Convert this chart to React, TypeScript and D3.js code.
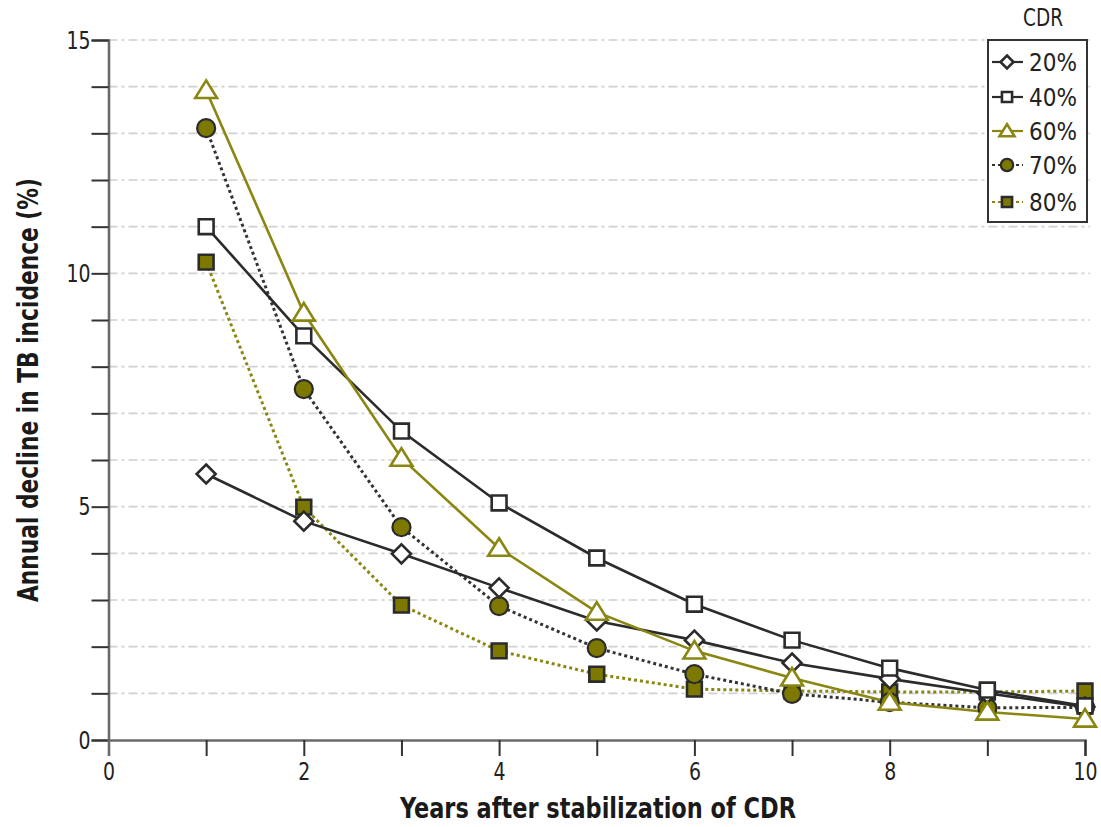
import React, { useRef, useEffect } from 'react'
import * as d3 from 'd3'

const years = [1, 2, 3, 4, 5, 6, 7, 8, 9, 10]
const seriesNames = ['20%', '40%', '60%', '70%', '80%']
const cdr20 = [5.7, 4.69, 3.99, 3.26, 2.55, 2.14, 1.65, 1.31, 1.0, 0.71]
const cdr40 = [11.0, 8.66, 6.62, 5.08, 3.9, 2.91, 2.14, 1.54, 1.07, 0.73]
const cdr60 = [13.92, 9.15, 6.04, 4.11, 2.74, 1.91, 1.33, 0.81, 0.6, 0.45]
const cdr70 = [13.11, 7.52, 4.56, 2.87, 1.97, 1.41, 0.99, 0.81, 0.69, 0.7]
const cdr80 = [10.24, 4.99, 2.89, 1.91, 1.41, 1.09, 1.05, 1.03, 1.03, 1.05]
const yTickLabels = [0, 5, 10, 15]
const xTickLabels = [0, 2, 4, 6, 8, 10]

const OLIVE = '#7d7800'
const OLIVE_LINE = '#8a8612'
const DARK = '#2b2b2b'
const FONT = '"Liberation Sans Narrow", "DejaVu Sans Condensed", "Liberation Sans", sans-serif'

const styles = [
  { shape: 'diamond', line: DARK, dash: null, fill: '#fff', stroke: DARK },
  { shape: 'square', line: DARK, dash: null, fill: '#fff', stroke: DARK },
  { shape: 'triangle', line: OLIVE_LINE, dash: null, fill: '#fff', stroke: OLIVE_LINE },
  { shape: 'circle', line: '#333', dash: '3,3', fill: OLIVE, stroke: DARK },
  { shape: 'square', line: OLIVE_LINE, dash: '3,3', fill: OLIVE, stroke: DARK },
]

const symbolPath = (shape, s) => {
  if (shape === 'diamond') return `M0,${-s}L${s},0L0,${s}L${-s},0Z`
  if (shape === 'square') return `M${-s * 0.78},${-s * 0.78}H${s * 0.78}V${s * 0.78}H${-s * 0.78}Z`
  if (shape === 'triangle') return `M0,${-s * 1.05}L${s * 1.15},${s * 0.8}H${-s * 1.15}Z`
  return null
}

const drawMarker = (g, st, x, y, s) => {
  if (st.shape === 'circle') {
    g.append('circle').attr('cx', x).attr('cy', y).attr('r', s * 0.95)
      .attr('fill', st.fill).attr('stroke', st.stroke).attr('stroke-width', 2.2)
  } else {
    g.append('path').attr('transform', `translate(${x},${y})`)
      .attr('d', symbolPath(st.shape, s))
      .attr('fill', st.fill).attr('stroke', st.stroke).attr('stroke-width', 2.6)
  }
}

// squeeze text horizontally to look like the condensed face of the original
const narrow = (sel, len) => sel.attr('textLength', len).attr('lengthAdjust', 'spacingAndGlyphs')

export default function App() {
  const visEl = useRef(null)
  const width = 1101
  const height = 827

  useEffect(() => {
    document.body.style.margin = '0'
    const root = d3.select(visEl.current)
    root.selectAll('*').remove()
    const svg = root.append('svg')
      .attr('width', width).attr('height', height)
      .style('display', 'block').style('background', '#fff')
      .style('font-family', FONT)

    const xScale = d3.scaleLinear().domain([0, 10]).range([108.5, 1085])
    const yScale = d3.scaleLinear().domain([0, 15]).range([740, 40])

    // grid lines
    const grid = svg.append('g')
    d3.range(1, 16).forEach(v => {
      grid.append('line')
        .attr('x1', xScale(0)).attr('x2', xScale(10) + 5)
        .attr('y1', yScale(v)).attr('y2', yScale(v))
        .attr('stroke', '#d0d0d0').attr('stroke-width', 1.6)
        .attr('stroke-dasharray', '9,4,3,4')
    })

    // y axis
    const yAxis = d3.axisLeft(yScale).tickValues(d3.range(0, 16)).tickSize(17)
      .tickFormat(d => (yTickLabels.includes(d) ? String(d) : ''))
    const yG = svg.append('g').attr('transform', `translate(${xScale(0)},0)`).call(yAxis)
    yG.select('.domain').attr('stroke', '#6a6a6a').attr('stroke-width', 2.6)
    yG.selectAll('.tick line').attr('stroke', '#333').attr('stroke-width', 2)
    yG.selectAll('.tick text').attr('font-size', 25).attr('fill', '#222')
      .attr('font-family', FONT).attr('x', -18)
      .each(function (d) { narrow(d3.select(this), d >= 10 ? 24 : 12) })

    // x axis
    const xAxis = d3.axisBottom(xScale).tickValues(d3.range(0, 11)).tickSize(16)
      .tickFormat(d => (xTickLabels.includes(d) ? String(d) : ''))
    const xG = svg.append('g').attr('transform', `translate(0,${yScale(0)})`).call(xAxis)
    xG.select('.domain').attr('stroke', '#6a6a6a').attr('stroke-width', 2.6)
    xG.selectAll('.tick line').attr('stroke', '#333').attr('stroke-width', 2)
    xG.selectAll('.tick text').attr('font-size', 25).attr('fill', '#222')
      .attr('font-family', FONT).attr('y', 22)
      .each(function (d) { if (xTickLabels.includes(d)) narrow(d3.select(this), d >= 10 ? 24 : 12) })
    xG.selectAll('.tick').filter(d => d === 0).select('line').remove()

    // axis titles
    narrow(svg.append('text')
      .attr('x', 598).attr('y', 818).attr('text-anchor', 'middle')
      .attr('font-size', 28).attr('font-weight', 'bold').attr('fill', '#1a1a1a')
      .text('Years after stabilization of CDR'), 396)
    narrow(svg.append('text')
      .attr('transform', `translate(38,390) rotate(-90)`).attr('text-anchor', 'middle')
      .attr('font-size', 28).attr('font-weight', 'bold').attr('fill', '#1a1a1a')
      .text('Annual decline in TB incidence (%)'), 424)

    // series
    const allSeries = [cdr20, cdr40, cdr60, cdr70, cdr80]
    const lineGen = d3.line().x((d, i) => xScale(years[i])).y(d => yScale(d))
    const order = [4, 3, 0, 1, 2]
    order.forEach(k => {
      const st = styles[k]
      svg.append('path').datum(allSeries[k])
        .attr('d', lineGen).attr('fill', 'none')
        .attr('stroke', st.line).attr('stroke-width', st.dash ? 3 : 2.6)
        .attr('stroke-dasharray', st.dash)
    })
    order.forEach(k => {
      const st = styles[k]
      const mg = svg.append('g')
      allSeries[k].forEach((v, i) => drawMarker(mg, st, xScale(years[i]), yScale(v), 9.5))
    })

    // legend
    const lg = svg.append('g')
    narrow(lg.append('text').attr('x', 1043).attr('y', 26).attr('text-anchor', 'middle')
      .attr('font-size', 24).attr('fill', '#222').text('CDR'), 40)
    lg.append('rect').attr('x', 988).attr('y', 40).attr('width', 99).attr('height', 182)
      .attr('fill', '#fff').attr('stroke', '#333').attr('stroke-width', 2)
    const legendY = [62, 97, 131, 165, 202]
    seriesNames.forEach((name, k) => {
      const st = styles[k]
      const y = legendY[k]
      lg.append('line').attr('x1', 992).attr('x2', 1023).attr('y1', y).attr('y2', y)
        .attr('stroke', st.line).attr('stroke-width', 2.2).attr('stroke-dasharray', st.dash)
      drawMarker(lg, st, 1007, y, 6.5)
      narrow(lg.append('text').attr('x', 1029).attr('y', y + 9)
        .attr('font-size', 25).attr('fill', '#222').text(name), 48)
    })
  })

  return (
    <div>
      <div ref={visEl}></div>
    </div>
  )
}
